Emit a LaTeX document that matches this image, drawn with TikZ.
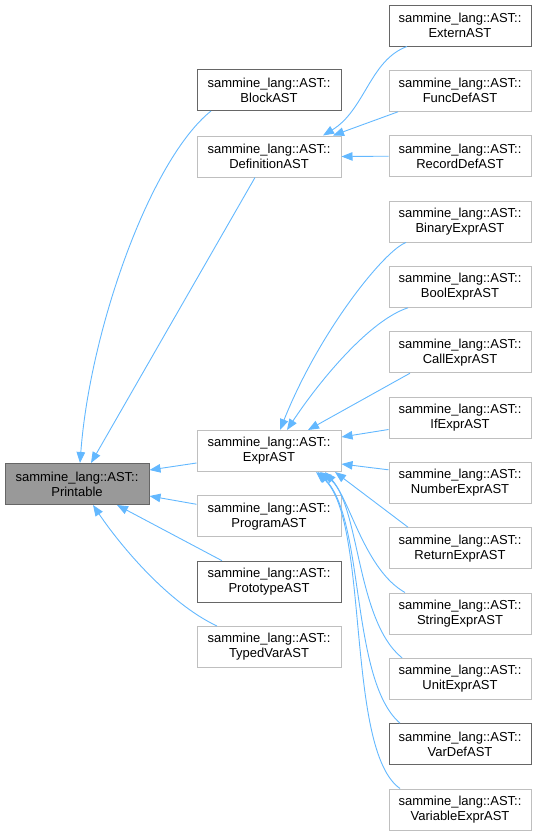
\documentclass[tikz,border=0pt]{standalone}
\usepackage{fontspec}
\setmainfont{Liberation Sans}
\usetikzlibrary{arrows.meta}
\definecolor{edgeblue}{HTML}{63B8FF}
\definecolor{lightborder}{HTML}{BFBFBF}
\definecolor{darkborder}{HTML}{666666}
\definecolor{basefill}{HTML}{999999}
\tikzset{
  cls/.style={draw=lightborder, line width=1pt, fill=white, rectangle, minimum width=144pt, minimum height=41pt, inner sep=0pt, align=center, font=\fontsize{13}{15}\selectfont},
  clsdark/.style={cls, draw=darkborder},
  clsbase/.style={cls, draw=darkborder, fill=basefill},
  col3/.style={minimum width=142pt},
  edge/.style={draw=edgeblue, line width=0.9pt, -{Triangle[length=11pt,width=8.5pt]}, fill=none}
}
\begin{document}
\begin{tikzpicture}[x=1pt,y=-1pt]
\useasboundingbox (0,0) rectangle (537,835);
% column 1
\node[clsbase] (printable) at (77,484) {sammine\_lang::AST::\\Printable};
% column 2
\node[clsdark] (block) at (269,90) {sammine\_lang::AST::\\BlockAST};
\node[cls] (definition) at (269,156.5) {sammine\_lang::AST::\\DefinitionAST};
\node[cls] (expr) at (269,451) {sammine\_lang::AST::\\ExprAST};
\node[cls] (program) at (269,516.3) {sammine\_lang::AST::\\ProgramAST};
\node[clsdark] (prototype) at (269,581.7) {sammine\_lang::AST::\\PrototypeAST};
\node[cls] (typedvar) at (269,647) {sammine\_lang::AST::\\TypedVarAST};
% column 3
\node[clsdark,col3] (extern) at (460,25.5) {sammine\_lang::AST::\\ExternAST};
\node[cls,col3] (funcdef) at (460,90.8) {sammine\_lang::AST::\\FuncDefAST};
\node[cls,col3] (recorddef) at (460,156.2) {sammine\_lang::AST::\\RecordDefAST};
\node[cls,col3] (binary) at (460,221.5) {sammine\_lang::AST::\\BinaryExprAST};
\node[cls,col3] (bool) at (460,286.8) {sammine\_lang::AST::\\BoolExprAST};
\node[cls,col3] (call) at (460,352.2) {sammine\_lang::AST::\\CallExprAST};
\node[cls,col3] (if) at (460,417.5) {sammine\_lang::AST::\\IfExprAST};
\node[cls,col3] (number) at (460,482.8) {sammine\_lang::AST::\\NumberExprAST};
\node[cls,col3] (return) at (460,548.2) {sammine\_lang::AST::\\ReturnExprAST};
\node[cls,col3] (string) at (460,613.5) {sammine\_lang::AST::\\StringExprAST};
\node[cls,col3] (unit) at (460,678.8) {sammine\_lang::AST::\\UnitExprAST};
\node[clsdark,col3] (vardef) at (460,744.2) {sammine\_lang::AST::\\VarDefAST};
\node[cls,col3] (variable) at (460,809.5) {sammine\_lang::AST::\\VariableExprAST};
% edges to Printable
\draw[edge] ([xshift=-58pt]block.south) .. controls (150,160) and (90,330) .. ([xshift=3pt]printable.north);
\draw[edge] ([xshift=-14pt]definition.south) -- ([xshift=14pt]printable.north);
\draw[edge] ([yshift=-12pt]expr.west) -- ([yshift=14pt]printable.east);
\draw[edge] ([yshift=12pt]program.west) -- ([yshift=-12pt]printable.east);
\draw[edge] ([xshift=-47pt]prototype.north) -- ([xshift=40pt]printable.south);
\draw[edge] ([xshift=-52pt]typedvar.north) .. controls (168,603) and (120,545) .. ([xshift=16pt]printable.south);
% edges to DefinitionAST
\draw[edge] ([xshift=-53pt]extern.south) .. controls (370,60) and (365,110) .. ([xshift=54pt]definition.north);
\draw[edge] ([xshift=-62pt]funcdef.south) -- ([xshift=64pt]definition.north);
\draw[edge] (recorddef.west) -- (definition.east);
% edges to ExprAST
\draw[edge] ([xshift=-54pt]binary.south) .. controls (385,250) and (320,330) .. ([xshift=11pt]expr.north);
\draw[edge] ([xshift=-52pt]bool.south) .. controls (370,320) and (320,380) .. ([xshift=18pt]expr.north);
\draw[edge] ([xshift=-50pt]call.south) -- ([xshift=39pt]expr.north);
\draw[edge] ([yshift=-12pt]if.west) -- ([yshift=14pt]expr.east);
\draw[edge] ([yshift=13pt]number.west) -- ([yshift=-13pt]expr.east);
\draw[edge] ([xshift=-52pt]return.north) -- ([xshift=66pt]expr.south);
\draw[edge] ([xshift=-55pt]string.north) .. controls (365,570) and (350,500) .. ([xshift=56pt]expr.south);
\draw[edge] ([xshift=-58pt]unit.north) .. controls (355,620) and (360,500) .. ([xshift=51pt]expr.south);
\draw[edge] ([xshift=-60pt]vardef.north) .. controls (350,680) and (365,520) .. ([xshift=49pt]expr.south);
\draw[edge] ([xshift=-60pt]variable.north) .. controls (345,750) and (370,520) .. ([xshift=47pt]expr.south);
\end{tikzpicture}
\end{document}
